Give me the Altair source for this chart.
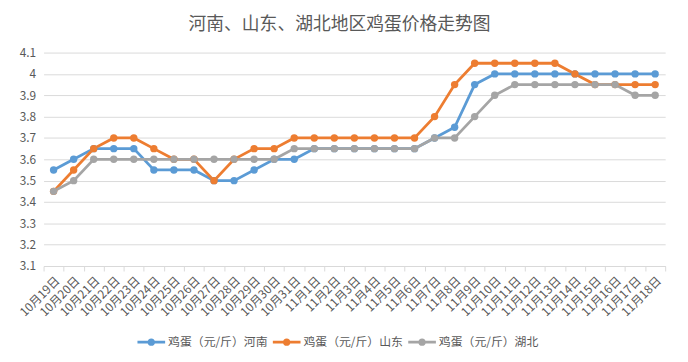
import altair as alt
import pandas as pd

dates = ["10月19日", "10月20日", "10月21日", "10月22日", "10月23日", "10月24日",
         "10月25日", "10月26日", "10月27日", "10月28日", "10月29日", "10月30日",
         "10月31日", "11月1日", "11月2日", "11月3日", "11月4日", "11月5日",
         "11月6日", "11月7日", "11月8日", "11月9日", "11月10日", "11月11日",
         "11月12日", "11月13日", "11月14日", "11月15日", "11月16日", "11月17日",
         "11月18日"]

henan = [3.55, 3.6, 3.65, 3.65, 3.65, 3.55, 3.55, 3.55, 3.5, 3.5, 3.55, 3.6, 3.6,
         3.65, 3.65, 3.65, 3.65, 3.65, 3.65, 3.7, 3.75, 3.95, 4.0, 4.0, 4.0, 4.0,
         4.0, 4.0, 4.0, 4.0, 4.0]
shandong = [3.45, 3.55, 3.65, 3.7, 3.7, 3.65, 3.6, 3.6, 3.5, 3.6, 3.65, 3.65, 3.7,
            3.7, 3.7, 3.7, 3.7, 3.7, 3.7, 3.8, 3.95, 4.05, 4.05, 4.05, 4.05, 4.05,
            4.0, 3.95, 3.95, 3.95, 3.95]
hubei = [3.45, 3.5, 3.6, 3.6, 3.6, 3.6, 3.6, 3.6, 3.6, 3.6, 3.6, 3.6, 3.65,
         3.65, 3.65, 3.65, 3.65, 3.65, 3.65, 3.7, 3.7, 3.8, 3.9, 3.95, 3.95, 3.95,
         3.95, 3.95, 3.95, 3.9, 3.9]

series_names = ["鸡蛋（元/斤）河南", "鸡蛋（元/斤）山东", "鸡蛋（元/斤）湖北"]
series_colors = ["#5B9BD5", "#ED7D31", "#A5A5A5"]
y_ticks = [3.1, 3.2, 3.3, 3.4, 3.5, 3.6, 3.7, 3.8, 3.9, 4.0, 4.1]

rows = []
for name, vals in zip(series_names, [henan, shandong, hubei]):
    for d, v in zip(dates, vals):
        rows.append({"date": d, "price": v, "series": name})
df = pd.DataFrame(rows)

FONT = "Noto Sans CJK SC"
GRAY_TXT = "#595959"
GRID = "#D9D9D9"

legend_path = ("M-1,-0.1L1,-0.1L1,0.1L-1,0.1Z "
               "M-0.27,0A0.27,0.27 0 1,1 0.27,0A0.27,0.27 0 1,1 -0.27,0Z")

x_enc = alt.X(
    "date:N", sort=dates, bandPosition=0.5,
    scale=alt.Scale(type="band", paddingInner=0, paddingOuter=0),
    axis=alt.Axis(title=None, labelAngle=-45, tickBand="extent", labelFont=FONT,
                  labelFontSize=12, labelColor=GRAY_TXT, domainColor=GRID,
                  tickColor=GRID, tickSize=5, labelPadding=4, grid=False),
)
y_enc = alt.Y(
    "price:Q",
    scale=alt.Scale(domain=[3.1, 4.1], nice=False, zero=False),
    axis=alt.Axis(title=None, values=y_ticks, format="~g", domain=False, ticks=False,
                  labelFont=FONT, labelFontSize=12, labelColor=GRAY_TXT,
                  labelPadding=8, gridColor=GRID, gridWidth=1),
)
color_scale = alt.Scale(domain=series_names, range=series_colors)
legend = alt.Legend(title=None, orient="none", legendX=95, legendY=279,
                    direction="horizontal", symbolType=legend_path,
                    symbolSize=784, symbolStrokeWidth=0, labelFont=FONT,
                    labelFontSize=12, labelColor=GRAY_TXT,
                    columnPadding=5, labelOffset=3, symbolOpacity=1)
color_enc = alt.Color("series:N", sort=series_names, scale=color_scale, legend=legend)

base = alt.Chart(df)

lines = base.mark_line(strokeWidth=2.8).encode(x=x_enc, y=y_enc, color=color_enc)
points = base.mark_point(filled=True, size=56, opacity=1).encode(
    x=x_enc, y=y_enc, color=color_enc)

chart = alt.layer(lines, points).properties(
    width=629,
    height=216,
    autosize=alt.AutoSizeParams(type="none"),
    padding={"left": 36, "top": 43, "right": 15, "bottom": 95},
    background="white",
    title=alt.TitleParams(
        text="河南、山东、湖北地区鸡蛋价格走势图", font=FONT, fontSize=18,
        fontWeight="normal", color=GRAY_TXT, anchor="middle", frame="group",
        dx=-15, offset=4, baseline="middle",
    ),
).configure_view(stroke=None)

chart.save("out.html", embed_options={"renderer": "svg", "actions": False})
